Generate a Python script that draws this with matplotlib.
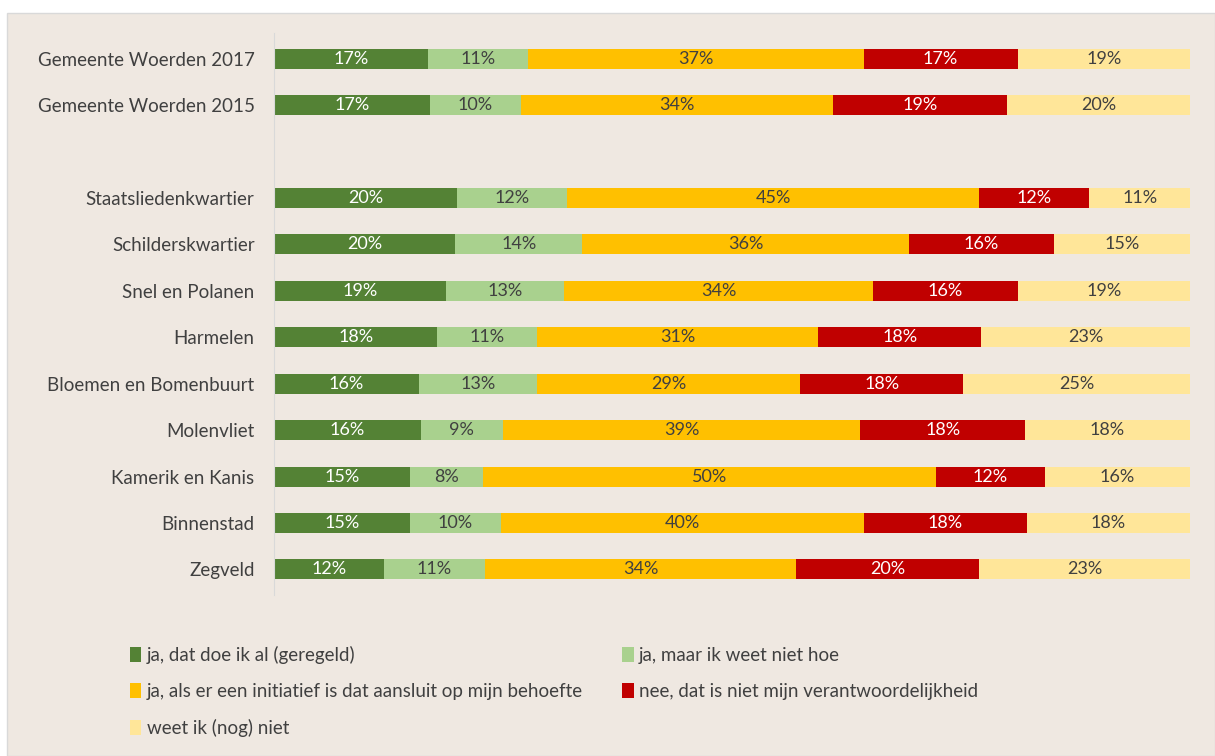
import matplotlib.pyplot as plt
from matplotlib.patches import Rectangle
import numpy as np

plt.rcParams['font.family'] = ['Lato', 'DejaVu Sans']

# Rows from top to bottom ('' = empty spacer row)
areas = ['Gemeente Woerden 2017', 'Gemeente Woerden 2015', '',
         'Staatsliedenkwartier', 'Schilderskwartier', 'Snel en Polanen',
         'Harmelen', 'Bloemen en Bomenbuurt', 'Molenvliet',
         'Kamerik en Kanis', 'Binnenstad', 'Zegveld']

ja_al = [17, 17, 0, 20, 20, 19, 18, 16, 16, 15, 15, 12]
ja_hoe = [11, 10, 0, 12, 14, 13, 11, 13, 9, 8, 10, 11]
ja_initiatief = [37, 34, 0, 45, 36, 34, 31, 29, 39, 50, 40, 34]
nee = [17, 19, 0, 12, 16, 16, 18, 18, 18, 12, 18, 20]
weet_niet = [19, 20, 0, 11, 15, 19, 23, 25, 18, 16, 18, 23]

series_names = ['ja, dat doe ik al (geregeld)', 'ja, maar ik weet niet hoe',
                'ja, als er een initiatief is dat aansluit op mijn behoefte',
                'nee, dat is niet mijn verantwoordelijkheid', 'weet ik (nog) niet']
colors = ['#548235', '#A9D18E', '#FFC000', '#C00000', '#FFE699']
text_colors = ['white', '#404040', '#404040', 'white', '#404040']

bg = '#EFE8E1'
fig = plt.figure(figsize=(12.15, 7.56), dpi=100, facecolor='white')
fig.patches.append(Rectangle((0.006, 0.0), 0.994, 0.983, transform=fig.transFigure,
                             facecolor=bg, edgecolor='#D9D9D9', linewidth=1, zorder=-10))
ax = fig.add_axes([274 / 1215, 1 - 595 / 756, (1190 - 274) / 1215, (595 - 33) / 756])
ax.set_facecolor('none')

data = np.array([ja_al, ja_hoe, ja_initiatief, nee, weet_niet], dtype=float)
totals = data.sum(axis=0)
totals[totals == 0] = 1
shares = data / totals
y = np.arange(len(areas))
left = np.zeros(len(areas))
for i in range(len(series_names)):
    mask = data[i] > 0
    ax.barh(y[mask], shares[i][mask], left=left[mask], height=0.43,
            color=colors[i], label=series_names[i])
    for yy, l, w, v in zip(y[mask], left[mask], shares[i][mask], data[i][mask]):
        ax.text(l + w / 2, yy, f'{int(v)}%', ha='center', va='center',
                fontsize=13, color=text_colors[i])
    left = left + shares[i]

ax.set_xlim(0, 1)
ax.set_ylim(len(areas) - 0.5 + 0.05, -0.5 - 0.05)
ax.set_yticks(y)
ax.set_yticklabels(areas, fontsize=13.5, color='#404040')
ax.tick_params(axis='y', length=0, pad=14)
ax.set_xticks([])
for s in ['top', 'right', 'bottom']:
    ax.spines[s].set_visible(False)
ax.spines['left'].set_color('#D9D9D9')

# legend filled row by row like the original
handles, labels = ax.get_legend_handles_labels()
order = [0, 2, 4, 1, 3]
fig.legend([handles[k] for k in order], [labels[k] for k in order], ncol=2,
           loc='upper left', bbox_to_anchor=(113 / 1215, 1 - 629 / 756), frameon=False,
           fontsize=13.5, labelcolor='#404040', handlelength=0.6, handleheight=0.9,
           handletextpad=0.3, columnspacing=2.1, labelspacing=1.0)

plt.savefig('out.png', dpi=100, facecolor=fig.get_facecolor())
plt.close()
